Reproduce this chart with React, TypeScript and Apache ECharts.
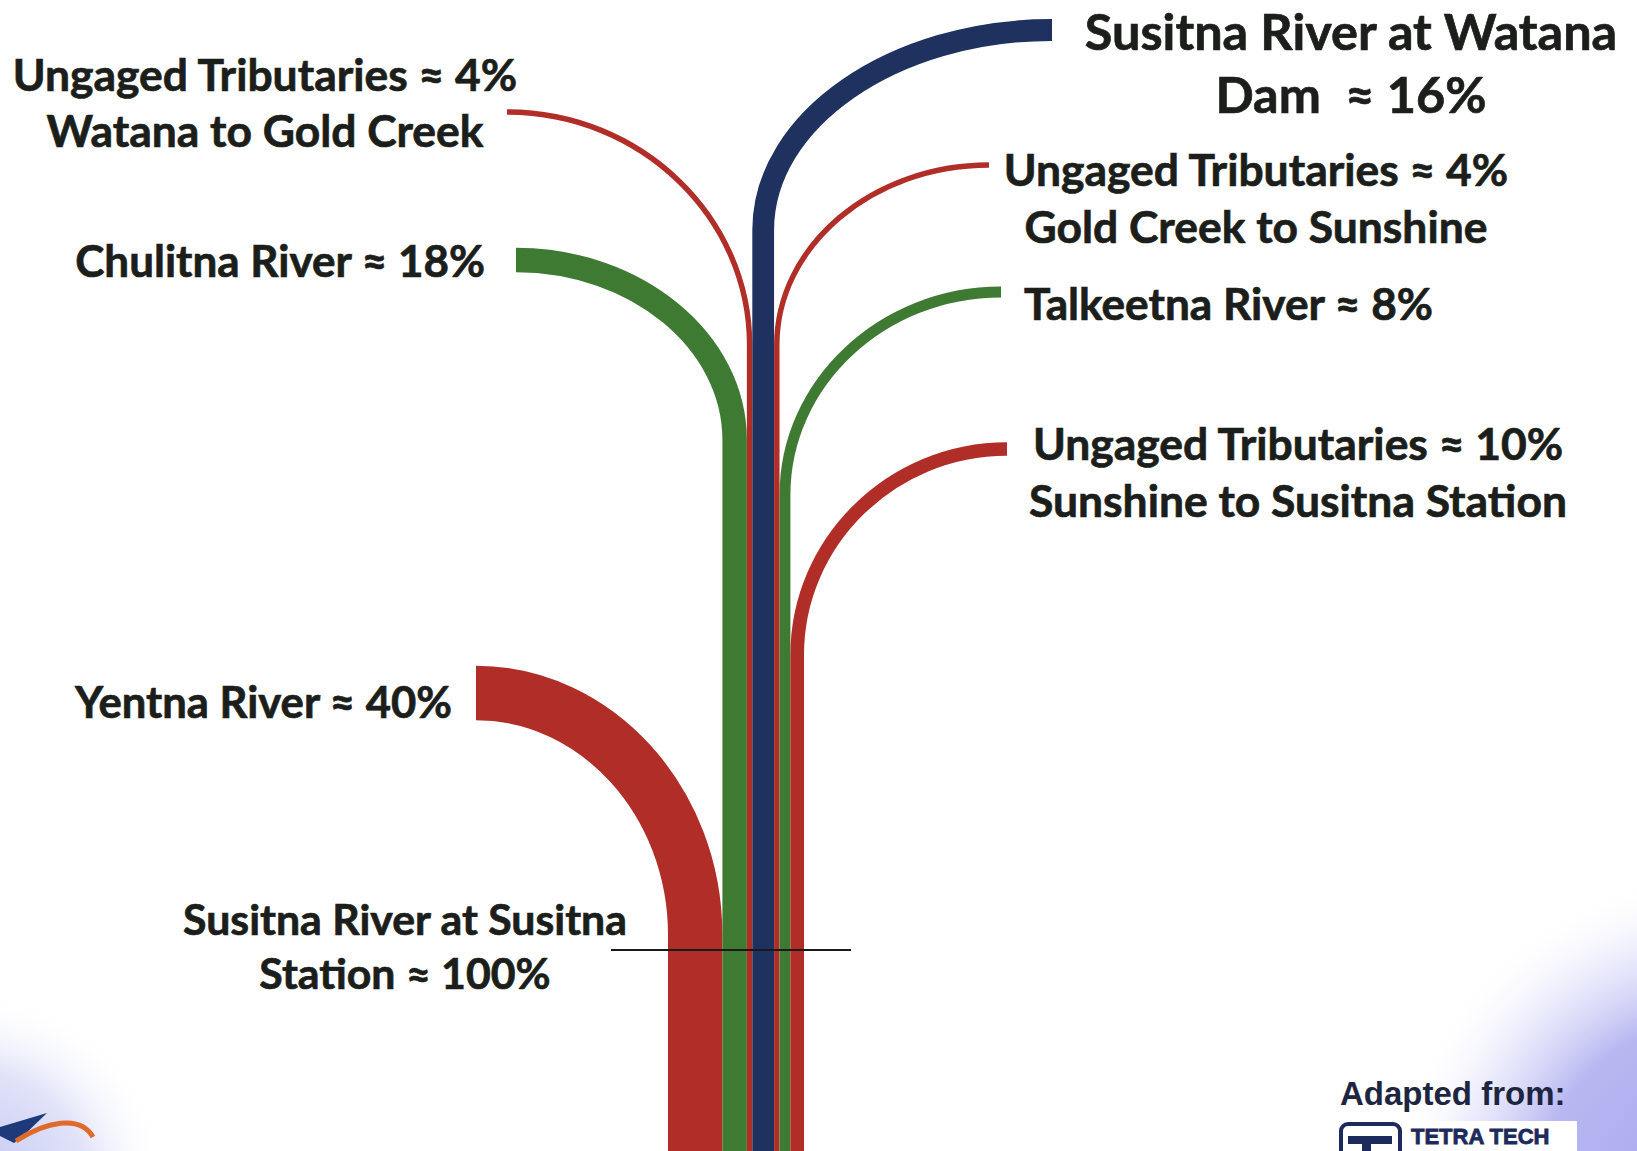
import React, { useEffect, useRef } from "react";
import * as echarts from "echarts";

// ---------- data ----------
const streamNames = [
  "Yentna River",
  "Chulitna River",
  "Ungaged Tributaries (Watana to Gold Creek)",
  "Susitna River at Watana Dam",
  "Ungaged Tributaries (Gold Creek to Sunshine)",
  "Talkeetna River",
  "Ungaged Tributaries (Sunshine to Susitna Station)",
];
const streamPercents = [40, 18, 4, 16, 4, 8, 10];
const labelLines = [
  ["Yentna River \u2248 {p}%"],
  ["Chulitna River \u2248 {p}%"],
  ["Ungaged Tributaries \u2248 {p}%", "Watana to Gold Creek"],
  ["Susitna River at Watana", "Dam  \u2248 {p}%"],
  ["Ungaged Tributaries \u2248 {p}%", "Gold Creek to Sunshine"],
  ["Talkeetna River \u2248 {p}%"],
  ["Ungaged Tributaries \u2248 {p}%", "Sunshine to Susitna Station"],
];
const totalLabelLines = ["Susitna River at Susitna", "Station \u2248 {p}%"];
const creditLines = ["Adapted from:", "TETRA TECH"];

// ---------- layout & style (not data) ----------
const RED = "#b02e27";
const GREEN = "#3f7a33";
const NAVY = "#1f325f";
const streamColors = [RED, GREEN, RED, NAVY, RED, GREEN, RED];
const endX = [476, 516, 507, 1052, 989, 1001, 1007];
const endY = [693, 260, 112, 30, 165, 292, 449];
const turnY = [935, 440, 345, 230, 345, 495, 655];
const PX_PER_PCT = 1.36;
const STEM_LEFT = 668;
const BOTTOM_Y = 1170;
const CURVE_K = 0.55;

const labelX = [452, 485, 265, 1351, 1256, 1024, 1298];
const labelAlign = ["right", "right", "center", "center", "center", "left", "center"];
const labelY = [[701], [260], [73, 129], [30, 93], [168, 225], [302], [442, 499]];
const labelSize = [43.6, 44, 44.4, 50.4, 44.4, 44.2, 44.4];
const TEXT_COLOR = "#1b1e1b";
const FONT = "Lato, 'Open Sans', sans-serif";

export default function App() {
  const ref = useRef<HTMLDivElement>(null);

  useEffect(() => {
    document.body.style.margin = "0";
    if (!ref.current) return;
    const chart = echarts.init(ref.current, undefined, { renderer: "svg" });

    const total = streamPercents.reduce((a, b) => a + b, 0);
    const fill = (s: string, p: number) => s.replace("{p}", String(p));

    const texts: any[] = [];
    labelLines.forEach((lines, i) => {
      lines.forEach((ln, k) => {
        texts.push({
          type: "text",
          x: labelX[i],
          y: labelY[i][k],
          z: 10,
          style: {
            text: fill(ln, streamPercents[i]),
            fontFamily: FONT,
            fontWeight: "bold",
            fontSize: labelSize[i],
            fill: TEXT_COLOR,
            stroke: TEXT_COLOR,
            lineWidth: 0.7,
            textAlign: labelAlign[i],
            textVerticalAlign: "middle",
          },
        });
      });
    });
    totalLabelLines.forEach((ln, k) => {
      texts.push({
        type: "text",
        x: 405,
        y: [918, 972][k],
        z: 10,
        style: {
          text: fill(ln, total),
          fontFamily: FONT,
          fontWeight: "bold",
          fontSize: 42.8,
          fill: TEXT_COLOR,
          stroke: TEXT_COLOR,
          lineWidth: 0.7,
          textAlign: "center",
          textVerticalAlign: "middle",
        },
      });
    });

    const decor: any[] = [
      // soft lavender glows
      {
        type: "circle",
        z: -10,
        shape: { cx: 1720, cy: 1200, r: 330 },
        style: {
          fill: {
            type: "radial", x: 0.5, y: 0.5, r: 0.5,
            colorStops: [
              { offset: 0, color: "rgba(165,165,240,1)" },
              { offset: 0.55, color: "rgba(175,175,240,0.9)" },
              { offset: 0.8, color: "rgba(205,205,248,0.35)" },
              { offset: 1, color: "rgba(255,255,255,0)" },
            ],
          },
        },
      },
      {
        type: "circle",
        z: -10,
        shape: { cx: -30, cy: 1190, r: 200 },
        style: {
          fill: {
            type: "radial", x: 0.5, y: 0.5, r: 0.5,
            colorStops: [
              { offset: 0, color: "rgba(185,190,240,0.95)" },
              { offset: 0.6, color: "rgba(205,208,245,0.6)" },
              { offset: 1, color: "rgba(255,255,255,0)" },
            ],
          },
        },
      },
      // bottom-left swoosh logo
      {
        type: "polygon",
        z: 5,
        shape: { points: [[0, 1127], [47, 1113], [22, 1137], [14, 1143], [0, 1136]] },
        style: { fill: "#1f3a7a" },
      },
      {
        type: "bezierCurve",
        z: 5,
        shape: { x1: 16, y1: 1141, cpx1: 45, cpy1: 1122, cpx2: 80, cpy2: 1114, x2: 93, y2: 1137 },
        style: { stroke: "#e06a2a", lineWidth: 5, fill: "none" },
      },
      // horizontal marker at Susitna Station
      {
        type: "line",
        z: 8,
        shape: { x1: 611, y1: 950, x2: 851, y2: 950 },
        style: { stroke: "#1a1a1a", lineWidth: 2 },
      },
      // credit
      {
        type: "text",
        z: 10,
        x: 1340,
        y: 1093,
        style: {
          text: creditLines[0],
          fontFamily: "'Liberation Sans', Arial, sans-serif",
          fontWeight: "bold",
          fontSize: 33,
          fill: "#1d2540",
          textAlign: "left",
          textVerticalAlign: "middle",
        },
      },
      {
        type: "rect",
        z: 9,
        shape: { x: 1339, y: 1121, width: 238, height: 40 },
        style: { fill: "#ffffff" },
      },
      {
        type: "rect",
        z: 10,
        shape: { x: 1341, y: 1124, width: 59, height: 45, r: 7 },
        style: { fill: "none", stroke: "#1c2a5c", lineWidth: 4 },
      },
      {
        type: "rect",
        z: 10,
        shape: { x: 1348, y: 1136, width: 44, height: 8 },
        style: { fill: "#1c2a5c" },
      },
      {
        type: "rect",
        z: 10,
        shape: { x: 1362, y: 1136, width: 9, height: 20 },
        style: { fill: "#1c2a5c" },
      },
      {
        type: "text",
        z: 10,
        x: 1411,
        y: 1136,
        style: {
          text: creditLines[1],
          fontFamily: "'Liberation Sans', Arial, sans-serif",
          fontWeight: 900,
          fontSize: 22,
          fill: "#1c2a5c",
          stroke: "#1c2a5c",
          lineWidth: 0.8,
          textAlign: "left",
          textVerticalAlign: "middle",
        },
      },
    ];

    chart.setOption({
      animation: false,
      backgroundColor: "#ffffff",
      grid: { left: 0, right: 0, top: 0, bottom: 0 },
      xAxis: { type: "value", min: 0, max: 1637, show: false },
      yAxis: { type: "value", min: 0, max: 1151, inverse: true, show: false },
      graphic: { elements: [...decor, ...texts] },
      series: [
        {
          type: "custom",
          name: "Flow contribution",
          coordinateSystem: "cartesian2d",
          clip: false,
          z: 3,
          data: streamPercents.map((p, i) => ({ name: streamNames[i], value: [i, p] })),
          renderItem: (params: any, api: any) => {
            const i = api.value(0) as number;
            const pct = api.value(1) as number;
            let cum = 0;
            for (let j = 0; j < i; j++) cum += streamPercents[j];
            const stemX = STEM_LEFT + (cum + pct / 2) * PX_PER_PCT;
            const ex = endX[i];
            const ey = endY[i];
            const ty = turnY[i];
            const p0 = api.coord([ex, ey]);
            const p1 = api.coord([ex + CURVE_K * (stemX - ex), ey]);
            const p2 = api.coord([stemX, ty - CURVE_K * (ty - ey)]);
            const p3 = api.coord([stemX, ty]);
            const p4 = api.coord([stemX, BOTTOM_Y]);
            const w = api.size([pct * PX_PER_PCT, 0])[0];
            return {
              type: "path",
              shape: {
                pathData: `M${p0[0]} ${p0[1]} C${p1[0]} ${p1[1]} ${p2[0]} ${p2[1]} ${p3[0]} ${p3[1]} L${p4[0]} ${p4[1]}`,
              },
              style: { stroke: streamColors[i], lineWidth: w, fill: "none", lineCap: "butt" },
            };
          },
        },
      ],
    });

    return () => chart.dispose();
  }, []);

  return <div ref={ref} style={{ width: 1637, height: 1151, background: "#fff" }} />;
}
